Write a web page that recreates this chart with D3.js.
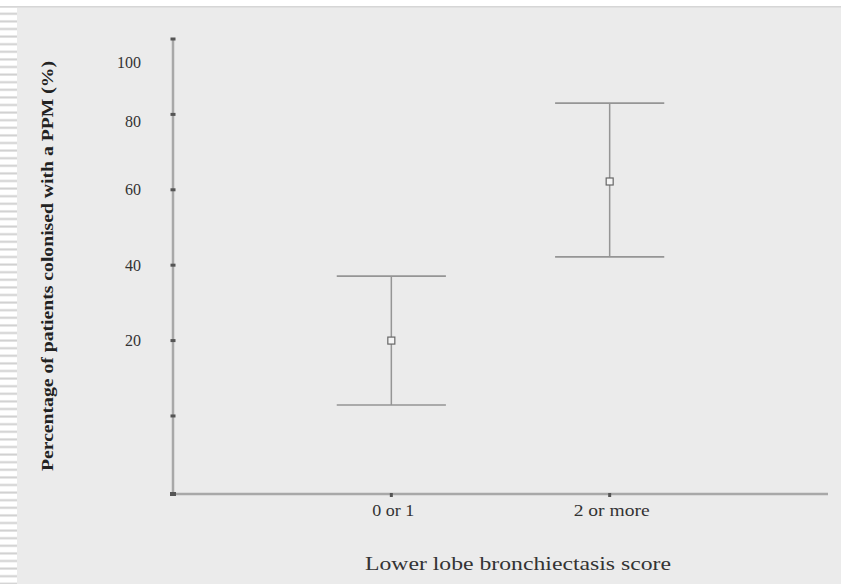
<!DOCTYPE html>
<html><head><meta charset="utf-8">
<script src="https://cdn.jsdelivr.net/npm/d3@7"></script>
<style>html,body{margin:0;padding:0;background:#ebebeb;}svg{display:block;}</style>
</head><body>
<script>
const categories = ["0 or 1", "2 or more"];
const means = [20, 62.2];
const upper = [37.1, 83.0];
const lower = [2.9, 42.2];
const yTickValues = [0, 20, 40, 60, 80, 100];
const yTickLabels = ["", "20", "40", "60", "80", "100"];
const xTitle = "Lower lobe bronchiectasis score";
const yTitle = "Percentage of patients colonised with a PPM (%)";

const W = 841, H = 584;
const svg = d3.select("body").append("svg").attr("width", W).attr("height", H);
svg.append("rect").attr("width", W).attr("height", H).attr("fill", "#ebebeb");
svg.append("rect").attr("x", 0).attr("y", 0).attr("width", W).attr("height", 6).attr("fill", "#ffffff");
svg.append("rect").attr("x", 0).attr("y", 6).attr("width", W).attr("height", 1.5).attr("fill", "#d6d6d6");
const defs = svg.append("defs");
const pat = defs.append("pattern").attr("id", "stripes").attr("patternUnits", "userSpaceOnUse")
  .attr("width", 18).attr("height", 7.6);
pat.append("rect").attr("width", 18).attr("height", 7.6).attr("fill", "#ffffff");
pat.append("rect").attr("y", 5.2).attr("width", 18).attr("height", 2).attr("fill", "#cfcfcf");
svg.append("rect").attr("x", 0).attr("y", 8).attr("width", 17).attr("height", H - 8).attr("fill", "url(#stripes)");

const x = d3.scaleLinear().domain([0, 3]).range([173, 828]);
const y = d3.scaleLinear().domain([-20.7, 100]).range([494, 39]);

const font = "'Liberation Serif', 'DejaVu Serif', serif";
const lineCol = "#959595";

svg.append("line").attr("x1", x(0)).attr("x2", x(0)).attr("y1", y(100)).attr("y2", y(-20.7))
  .attr("stroke", "#a8a8a8").attr("stroke-width", 2.5);
svg.append("line").attr("x1", x(0)).attr("x2", x(3)).attr("y1", y(-20.7)).attr("y2", y(-20.7))
  .attr("stroke", "#a8a8a8").attr("stroke-width", 2.5);

svg.selectAll(".yt").data(yTickValues).enter().append("rect")
  .attr("x", x(0) - 2.5).attr("y", d => y(d) - 1.5).attr("width", 5).attr("height", 3).attr("fill", "#555");
svg.append("rect").attr("x", x(0) - 3).attr("y", y(-20.7) - 2).attr("width", 6).attr("height", 4).attr("fill", "#555");
const labelNudge = {80: 7, 100: 23};
svg.selectAll(".yl").data(yTickValues).enter().append("text")
  .attr("x", 141).attr("y", d => y(d) + (labelNudge[d] || 0))
  .attr("dy", "0.35em").attr("text-anchor", "end")
  .attr("font-family", font).attr("font-size", 16).attr("fill", "#333")
  .text((d, i) => yTickLabels[i]);

svg.selectAll(".xt").data(categories).enter().append("rect")
  .attr("x", (d, i) => x(i + 1) - 1.5).attr("y", y(-20.7) - 1).attr("width", 3).attr("height", 4).attr("fill", "#555");
const xLabelLen = [42, 76];
svg.selectAll(".xl").data(categories).enter().append("text")
  .attr("x", (d, i) => x(i + 1) + 2).attr("y", 516)
  .attr("text-anchor", "middle").attr("font-family", font).attr("font-size", 16).attr("fill", "#333")
  .attr("textLength", (d, i) => xLabelLen[i]).attr("lengthAdjust", "spacingAndGlyphs")
  .text(d => d);

const capHalf = 0.25;
categories.forEach((c, i) => {
  const cx = x(i + 1);
  svg.append("line").attr("x1", cx).attr("x2", cx).attr("y1", y(upper[i])).attr("y2", y(lower[i]))
    .attr("stroke", lineCol).attr("stroke-width", 1.5);
  [upper[i], lower[i]].forEach(v => {
    svg.append("line").attr("x1", x(i + 1 - capHalf)).attr("x2", x(i + 1 + capHalf))
      .attr("y1", y(v)).attr("y2", y(v)).attr("stroke", lineCol).attr("stroke-width", 1.6);
  });
  svg.append("rect").attr("x", cx - 3.5).attr("y", y(means[i]) - 3.5).attr("width", 7).attr("height", 7)
    .attr("fill", "#f4f4f4").attr("stroke", "#666").attr("stroke-width", 1.2);
});

svg.append("text").attr("x", 518).attr("y", 570).attr("text-anchor", "middle")
  .attr("font-family", font).attr("font-size", 19).attr("fill", "#333")
  .attr("textLength", 306).attr("lengthAdjust", "spacingAndGlyphs").text(xTitle);
svg.append("text").attr("transform", "translate(53,266) rotate(-90)").attr("text-anchor", "middle")
  .attr("font-family", font).attr("font-size", 17).attr("font-weight", "bold").attr("fill", "#222")
  .attr("textLength", 410).attr("lengthAdjust", "spacingAndGlyphs").text(yTitle);
</script>
</body></html>
